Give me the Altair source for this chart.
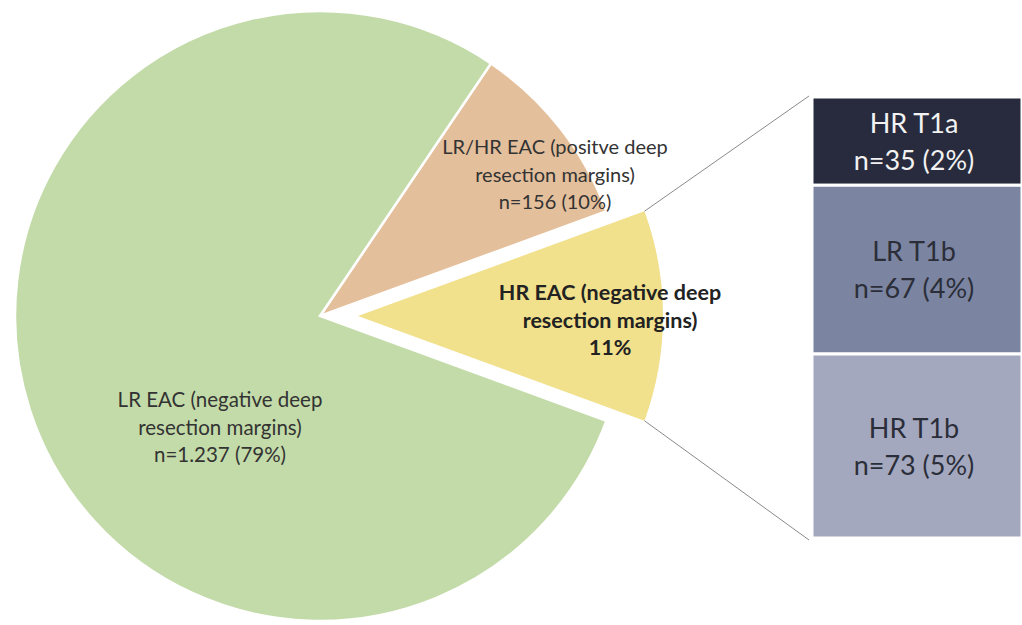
import math

import altair as alt
import pandas as pd

# Main pie: slices in drawing order (clockwise from the upper right)
pie_keys = ["pos", "hr", "lr"]
pie_lines = [
    ["LR/HR EAC (positve deep", "resection margins)"],
    ["HR EAC (negative deep", "resection margins)"],
    ["LR EAC (negative deep", "resection margins)"],
]
pie_colors = ["#e4bf9b", "#f1e08c", "#c3dba9"]

# Breakdown of the high-risk slice shown in the stacked bar
sub_labels = ["HR T1a", "LR T1b", "HR T1b"]
sub_counts = [35, 67, 73]
sub_colors = ["#272b3d", "#7b85a1", "#a3a8bf"]
sub_text_colors = ["#f2f2f2", "#2b2e38", "#2b2e38"]

pie_counts = [156, sum(sub_counts), 1237]
total = sum(pie_counts)

# geometry of the pie
CX, CY, R = 320, 316, 305
EXPLODE = 38
# rotate so the exploded slice points straight right
start = math.pi / 2 - (pie_counts[0] + pie_counts[1] / 2) / total * 2 * math.pi

pie_df = pd.DataFrame({"key": pie_keys, "count": pie_counts, "rank": range(3)})

theta = alt.Theta("count:Q", stack=True,
                  scale=alt.Scale(range=[start, start + 2 * math.pi]))
color = alt.Color("key:N", legend=None,
                  scale=alt.Scale(domain=pie_keys, range=pie_colors))

pie_main = alt.Chart(pie_df).mark_arc(radius=R, stroke="white", strokeWidth=2.5).encode(
    theta=theta,
    order=alt.Order("rank:Q"),
    color=color,
    opacity=alt.condition(alt.datum.key == "hr", alt.value(0), alt.value(1)),
    x=alt.value(CX), y=alt.value(CY),
)
pie_hr = alt.Chart(pie_df).mark_arc(radius=R).encode(
    theta=theta,
    order=alt.Order("rank:Q"),
    color=color,
    opacity=alt.condition(alt.datum.key == "hr", alt.value(1), alt.value(0)),
    x=alt.value(CX + EXPLODE), y=alt.value(CY),
)
pie = alt.layer(pie_main, pie_hr)

# stacked bar
BAR_X0, BAR_X1, BAR_TOP, BAR_BOTTOM = 812, 1022, 97, 538
BAR_LH = 37
sub_total = sum(sub_counts)
sub_df = pd.DataFrame({
    "label": sub_labels,
    "count": sub_counts,
    "idx": range(3),
    "text": [f"{l}\nn={c} ({round(c / total * 100)}%)" for l, c in zip(sub_labels, sub_counts)],
})
yscale = alt.Scale(domain=[0, sub_total], range=[BAR_BOTTOM, BAR_TOP])

bar_base = alt.Chart(sub_df).transform_stack(
    stack="count", groupby=[], as_=["y0", "y1"],
    sort=[alt.SortField("idx", order="descending")],
).transform_calculate(mid="(datum.y0 + datum.y1) / 2")

bars = bar_base.mark_rect(stroke="white", strokeWidth=3).encode(
    x=alt.value(BAR_X0), x2=alt.value(BAR_X1),
    y=alt.Y("y0:Q", scale=yscale, axis=None), y2="y1:Q",
    color=alt.Color("label:N", legend=None,
                    scale=alt.Scale(domain=sub_labels, range=sub_colors)),
)
# two-line labels: shift up half a line so the block sits on the segment centre
bar_text = bar_base.mark_text(
    font="Lato", fontSize=27, lineBreak="\n", lineHeight=BAR_LH, dy=2 - BAR_LH / 2,
    align="center", baseline="middle",
).encode(
    x=alt.value(914),
    y=alt.Y("mid:Q", scale=yscale, axis=None),
    text="text:N",
    color=alt.Color("label:N", legend=None,
                    scale=alt.Scale(domain=sub_labels, range=sub_text_colors)),
)
bar = alt.layer(bars, bar_text).resolve_scale(color="independent")

# connector lines from the exploded slice to the bar
a0 = start + pie_counts[0] / total * 2 * math.pi
a1 = a0 + pie_counts[1] / total * 2 * math.pi
conn_df = pd.DataFrame({
    "x": [CX + EXPLODE + R * math.sin(a0), CX + EXPLODE + R * math.sin(a1)],
    "y": [CY - R * math.cos(a0), CY - R * math.cos(a1)],
    "x2": [BAR_X0 - 3, BAR_X0 - 3],
    "y2": [BAR_TOP - 1, BAR_BOTTOM + 2],
})
connectors = alt.Chart(conn_df).mark_rule(color="#8a8a8a", strokeWidth=1).encode(
    x=alt.X("x:Q", scale=None), y=alt.Y("y:Q", scale=None),
    x2="x2:Q", y2="y2:Q",
)


def pie_label(lines, extra, x, y, size, bold=False):
    # y is the centre of the first line
    return alt.Chart(pd.DataFrame({"t": ["\n".join(lines + [extra])]})).mark_text(
        font="Lato", fontSize=size, lineBreak="\n", lineHeight=27.5,
        fontWeight="bold" if bold else "normal",
        color="#222222" if bold else "#333333",
        align="center", baseline="middle",
    ).encode(x=alt.value(x), y=alt.value(y), text="t:N")


def n_pct(c):
    return f"n={c:,} ({round(c / total * 100)}%)".replace(",", ".")


labels = [
    pie_label(pie_lines[2], n_pct(pie_counts[2]), 220, 401, 20.5),
    pie_label(pie_lines[0], n_pct(pie_counts[0]), 555, 148, 20),
    pie_label(pie_lines[1], f"{round(pie_counts[1] / total * 100)}%", 610, 294, 21.5, bold=True),
]

chart = alt.layer(
    pie, connectors, bar, *labels
).resolve_scale(y="independent", color="independent").properties(
    width=1022, height=625, padding=0, autosize="none",
).configure_view(stroke=None)

chart.save("out.html", embed_options={"renderer": "svg", "actions": False})
